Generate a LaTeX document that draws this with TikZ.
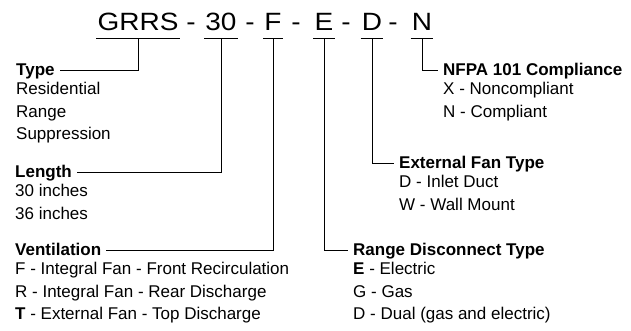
\documentclass[tikz,border=0pt]{standalone}
\usepackage{fontspec}
\setmainfont{Liberation Sans}
\newfontfamily\codefont[FakeStretch=1.12]{Liberation Sans}
\usetikzlibrary{positioning}

\begin{document}
\begin{tikzpicture}[
  x=1pt, y=-1pt,
  code/.style={font=\codefont\fontsize{25}{25}\selectfont, inner sep=0pt, anchor=base},
  head/.style={font=\fontsize{17}{22}\selectfont\bfseries, inner xsep=5pt, inner ysep=0pt,
               text height=10pt, text depth=0pt, anchor=base west},
  opts/.style={font=\fontsize{17}{22.5}\selectfont, align=left, inner sep=0pt, anchor=north west,
               execute at begin node=\strut},
  link/.style={line width=0.9pt}
]
\useasboundingbox (0,0) rectangle (631,330);

% model number
\node[code] (grrs) at (138,30) {GRRS};
\node[code] (d1) at (191,30) {-};
\node[code] (size) at (221,30) {30};
\node[code] (d2) at (250,30) {-};
\node[code] (vent) at (273,30) {F};
\node[code] (d3) at (296,30) {-};
\node[code] (disc) at (324,30) {E};
\node[code] (d4) at (346,30) {-};
\node[code] (fan) at (372,30) {D};
\node[code] (d5) at (393,30) {-};
\node[code] (nfpa) at (422,30) {N};

\foreach \n in {grrs,size,vent,disc,fan,nfpa}
  \draw[link] ([xshift=-1pt,yshift=-8.5pt]\n.base west) -- ([xshift=1pt,yshift=-8.5pt]\n.base east);

% option groups (first option line about 23pt under the heading)
\node[head] (type) at (11,75) {Type};
\node[opts] (typeopts) at ([xshift=5pt,yshift=-7.25pt]type.base west) {Residential\\Range\\Suppression};
\node[head] (length) at (10,177) {Length};
\node[opts] (lengthopts) at ([xshift=5pt,yshift=-7.25pt]length.base west) {30 inches\\36 inches};
\node[head] (ventilation) at (10,255) {Ventilation};
\node[opts] (ventopts) at ([xshift=5pt,yshift=-7.25pt]ventilation.base west) {F - Integral Fan - Front Recirculation\\R - Integral Fan - Rear Discharge\\\textbf{T} - External Fan - Top Discharge};
\node[head] (disconnect) at (348,255) {Range Disconnect Type};
\node[opts] (disconnectopts) at ([xshift=5pt,yshift=-7.25pt]disconnect.base west) {\textbf{E} - Electric\\G - Gas\\D - Dual (gas and electric)};
\node[head] (fantype) at (394,168) {External Fan Type};
\node[opts] (fanopts) at ([xshift=5pt,yshift=-7.25pt]fantype.base west) {D - Inlet Duct\\W - Wall Mount};
\node[head] (compliance) at (438,75) {NFPA 101 Compliance};
\node[opts] (complianceopts) at ([xshift=5pt,yshift=-7.25pt]compliance.base west) {X - Noncompliant\\N - Compliant};

\draw[link] ([yshift=-8.5pt]grrs.base) |- (type.east);
\draw[link] ([yshift=-8.5pt]size.base) |- (length.east);
\draw[link] ([yshift=-8.5pt]vent.base) |- (ventilation.east);
\draw[link] ([yshift=-8.5pt]disc.base) |- (disconnect.west);
\draw[link] ([yshift=-8.5pt]fan.base) |- (fantype.west);
\draw[link] ([yshift=-8.5pt]nfpa.base) |- (compliance.west);
\end{tikzpicture}
\end{document}
